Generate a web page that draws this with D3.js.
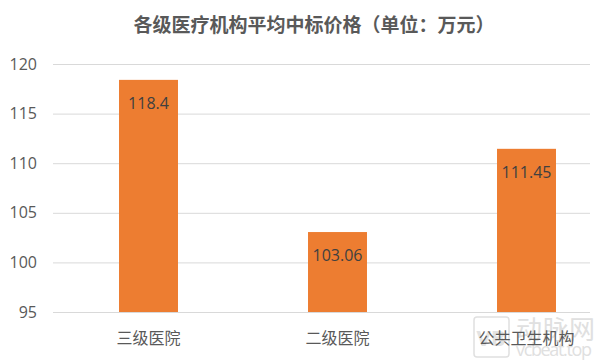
<!DOCTYPE html>
<html>
<head>
<meta charset="utf-8">
<script src="https://cdn.jsdelivr.net/npm/d3@7/dist/d3.min.js"></script>
<style>
  html, body { margin: 0; padding: 0; background: #fff; }
  svg { display: block; font-family: "Open Sans", "Noto Sans CJK SC", sans-serif; }
</style>
</head>
<body>
<svg id="chart" width="600" height="360"></svg>
<script>
const title = "各级医疗机构平均中标价格（单位：万元）";
const categories = ["三级医院", "二级医院", "公共卫生机构"];
const values = [118.4, 103.06, 111.45];
const valueLabels = ["118.4", "103.06", "111.45"];
const yTicks = [95, 100, 105, 110, 115, 120];

const svg = d3.select("#chart");
const gridLeft = 53, gridRight = 590;

const x = d3.scaleBand().domain(categories).range([54, 621])
  .paddingInner(0.688).paddingOuter(0.344);
const y = d3.scaleLinear().domain([95, 120]).range([312, 64]);

// title
svg.append("text")
  .attr("x", 314).attr("y", 32)
  .attr("text-anchor", "middle")
  .attr("font-family", "'Noto Sans CJK SC', sans-serif")
  .attr("font-size", 19).attr("font-weight", "bold")
  .attr("fill", "#595959")
  .text(title);

// gridlines
svg.append("g").selectAll("line").data(yTicks).join("line")
  .attr("x1", gridLeft).attr("x2", gridRight)
  .attr("y1", d => y(d) + 0.5).attr("y2", d => y(d) + 0.5)
  .attr("stroke", "#d9d9d9").attr("stroke-width", 1);

// y axis labels
const yAxis = d3.axisLeft(y).tickValues(yTicks).tickSize(0).tickPadding(0);
const gy = svg.append("g").attr("transform", "translate(37,0)").call(yAxis);
gy.select(".domain").remove();
gy.selectAll("text")
  .attr("font-family", "'Open Sans', 'Noto Sans CJK SC', sans-serif")
  .attr("font-size", 16).attr("fill", "#595959");

// watermark
const wm = svg.append("g").attr("fill", "none");
wm.append("rect").attr("x", 474).attr("y", 317).attr("width", 35).attr("height", 40)
  .attr("rx", 3).attr("stroke", "#e0e0e0").attr("stroke-width", 1.5);
wm.append("text").attr("x", 491).attr("y", 346).attr("text-anchor", "middle")
  .attr("font-size", 22).attr("font-weight", "bold").attr("fill", "#e3e3e3").text("VB");
wm.append("text").attr("x", 516).attr("y", 339)
  .attr("font-family", "'Noto Sans CJK SC', sans-serif")
  .attr("font-size", 26).attr("fill", "#e0e0e0").attr("textLength", 79).text("动脉网");
wm.append("text").attr("x", 516).attr("y", 356)
  .attr("font-size", 18).attr("fill", "#e0e0e0").attr("textLength", 76).text("vcbeat.top");

// bars
svg.append("g").selectAll("rect").data(values).join("rect")
  .attr("x", (d, i) => x(categories[i]))
  .attr("width", x.bandwidth())
  .attr("y", d => y(d))
  .attr("height", d => y(95) - y(d))
  .attr("fill", "#ED7D31");

// value labels
svg.append("g").selectAll("text").data(values).join("text")
  .attr("x", (d, i) => x(categories[i]) + x.bandwidth() / 2)
  .attr("y", d => y(d) + 29)
  .attr("text-anchor", "middle")
  .attr("font-family", "'Open Sans', 'Noto Sans CJK SC', sans-serif")
  .attr("font-size", 16).attr("fill", "#404040")
  .text((d, i) => valueLabels[i]);

// x labels
const xAxis = d3.axisBottom(x).tickSize(0).tickPadding(0);
const gx = svg.append("g").attr("transform", "translate(0,344)").call(xAxis);
gx.select(".domain").remove();
gx.selectAll("text")
  .attr("dy", 0)
  .attr("font-family", "'Noto Sans CJK SC', sans-serif")
  .attr("font-size", 16).attr("fill", "#595959");
</script>
</body>
</html>
